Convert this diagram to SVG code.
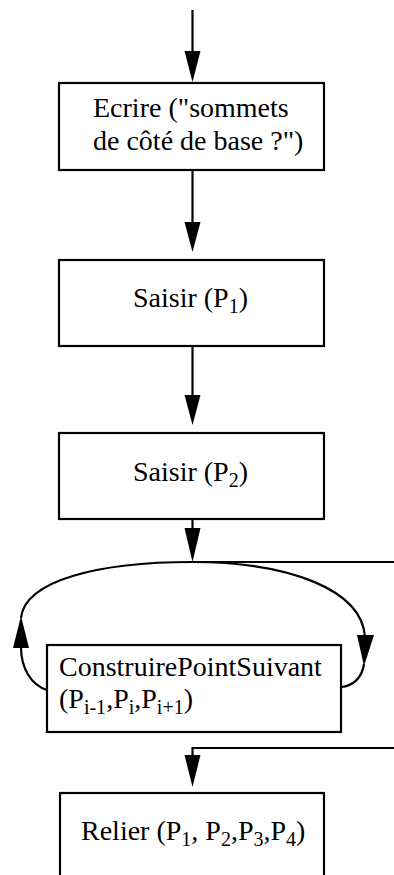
<svg xmlns="http://www.w3.org/2000/svg" width="394" height="875" viewBox="0 0 394 875">
<style>
.box{fill:#fff;stroke:#000;stroke-width:2.2}
.ln{fill:none;stroke:#000;stroke-width:2.2}
.hd{fill:#000;stroke:none}
.t{font-family:'Liberation Serif','Times New Roman','DejaVu Serif',serif;font-size:28px;fill:#000}
.sb{font-size:20px}
</style>
<rect width="394" height="875" fill="#fff"/>
<g id="connectors">
<line class="ln" x1="192.5" y1="10" x2="192.5" y2="52"/>
<polygon class="hd" points="184.5,51 200.5,51 192.5,82"/>
<line class="ln" x1="192.5" y1="170" x2="192.5" y2="223"/>
<polygon class="hd" points="184.5,222 200.5,222 192.5,252"/>
<line class="ln" x1="192.5" y1="346" x2="192.5" y2="396"/>
<polygon class="hd" points="184.5,395 200.5,395 192.5,425"/>
<line class="ln" x1="192.5" y1="519" x2="192.5" y2="529"/>
<polygon class="hd" points="184.5,528 200.5,528 192.5,562"/>
<line class="ln" x1="192" y1="562" x2="394" y2="562"/>
<path class="ln" d="M192,562 C100,562 25,580 21,618"/>
<polygon class="hd" points="21,616 13,648 29,648"/>
<path class="ln" d="M21,647 C21,668 31,685 47,690"/>
<path class="ln" d="M192,562 C290,562 362,590 365,637"/>
<polygon class="hd" points="357,635 374,635 364,666"/>
<path class="ln" d="M364,664 C362,678 353,686 341,687"/>
<polyline class="ln" points="394,748 192.5,748 192.5,756"/>
<polygon class="hd" points="184.5,755 200.5,755 192.5,787"/>
</g>
<g id="n1">
<rect class="box" x="59" y="83" width="265" height="87"/>
<text class="t" font-family="Liberation Serif, serif" x="93" y="117">Ecrire ("sommets</text>
<text class="t" font-family="Liberation Serif, serif" x="93" y="150">de côté de base ?")</text>
</g>
<g id="n2">
<rect class="box" x="59" y="260" width="265" height="86"/>
<text class="t" font-family="Liberation Serif, serif" x="133" y="307">Saisir (P<tspan class="sb" dy="6">1</tspan><tspan dy="-6">)</tspan></text>
</g>
<g id="n3">
<rect class="box" x="59" y="433" width="265" height="86"/>
<text class="t" font-family="Liberation Serif, serif" x="133" y="481">Saisir (P<tspan class="sb" dy="6">2</tspan><tspan dy="-6">)</tspan></text>
</g>
<g id="n4">
<rect class="box" x="47" y="645" width="294" height="87"/>
<text class="t" font-family="Liberation Serif, serif" x="59" y="676">ConstruirePointSuivant</text>
<text class="t" font-family="Liberation Serif, serif" x="59" y="708">(P<tspan class="sb" dy="6">i-1</tspan><tspan dy="-6">,P</tspan><tspan class="sb" dy="6">i</tspan><tspan dy="-6">,P</tspan><tspan class="sb" dy="6">i+1</tspan><tspan dy="-6">)</tspan></text>
</g>
<g id="n5">
<rect class="box" x="60" y="793" width="264" height="100"/>
<text class="t" font-family="Liberation Serif, serif" x="81" y="840">Relier (P<tspan class="sb" dy="6">1</tspan><tspan dy="-6">, P</tspan><tspan class="sb" dy="6">2</tspan><tspan dy="-6">,P</tspan><tspan class="sb" dy="6">3</tspan><tspan dy="-6">,P</tspan><tspan class="sb" dy="6">4</tspan><tspan dy="-6">)</tspan></text>
</g>
</svg>
